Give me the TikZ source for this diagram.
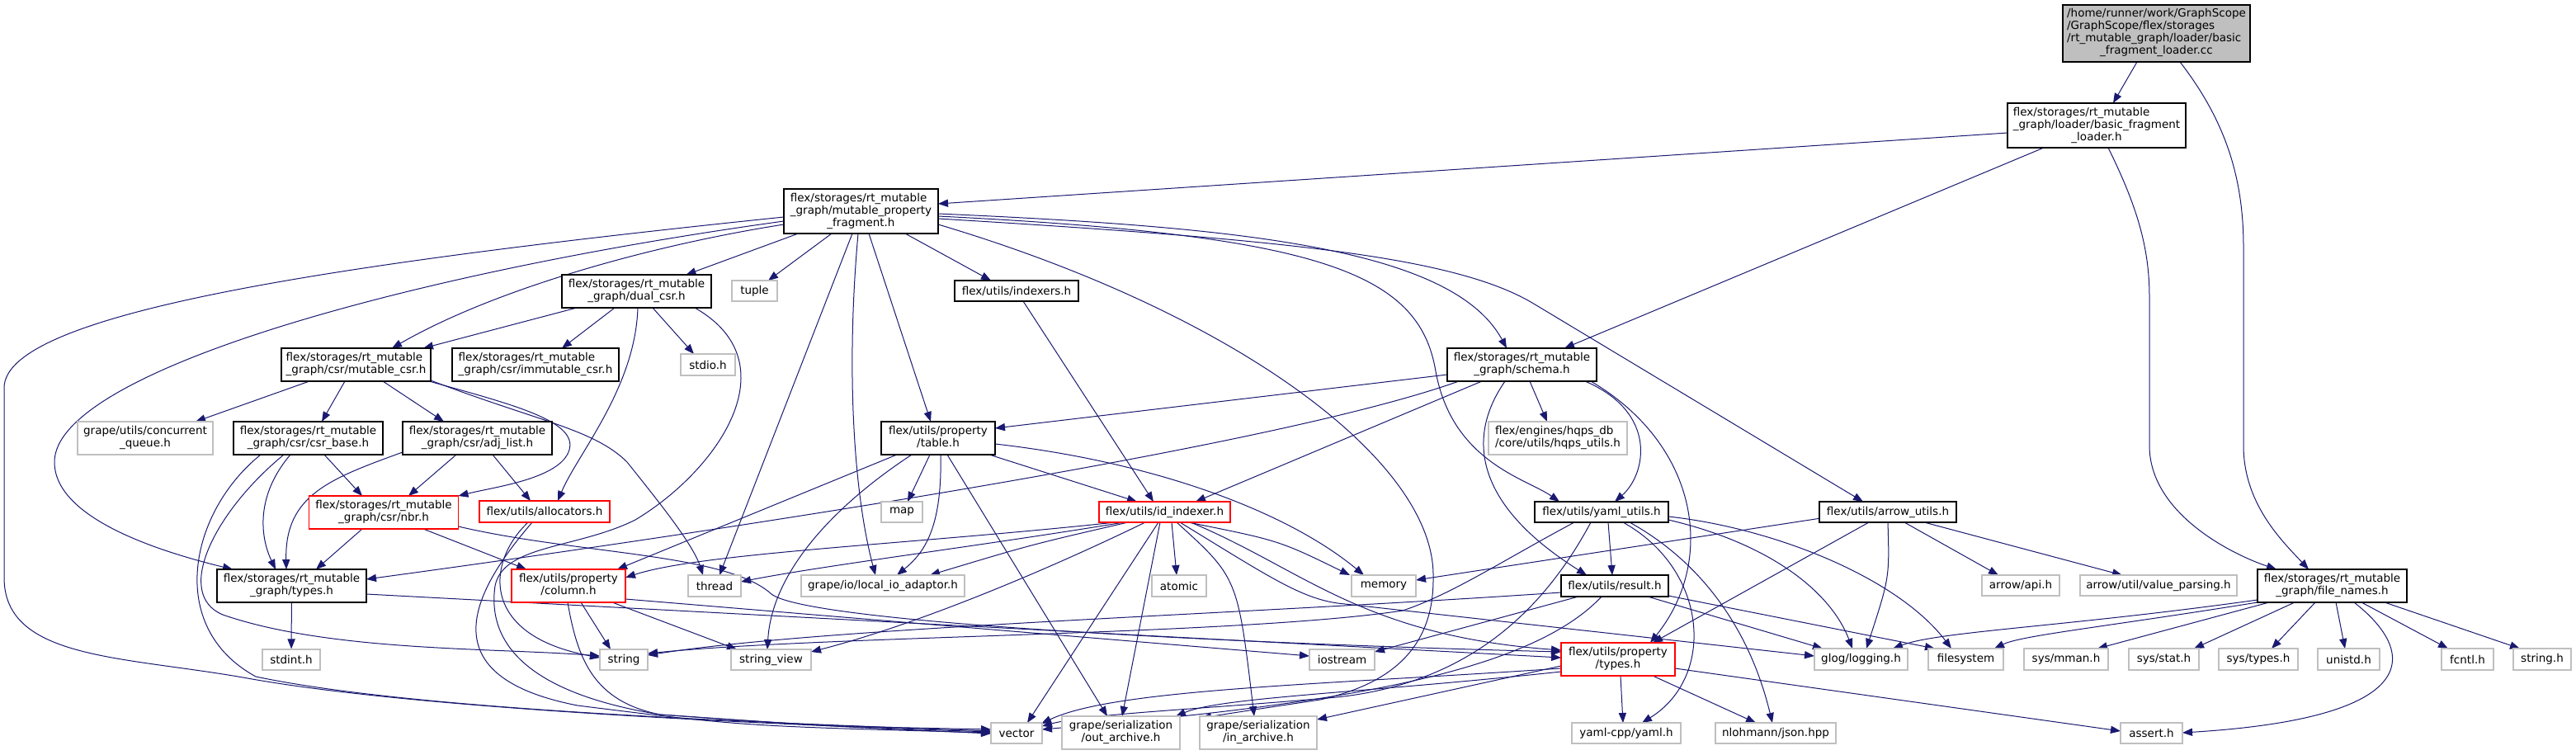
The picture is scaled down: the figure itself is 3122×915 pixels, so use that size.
\documentclass[tikz,border=0pt]{standalone}
\usepackage{fontspec}
\newfontfamily\dvs{DejaVu Sans}
\usetikzlibrary{arrows.meta,calc}
\definecolor{edgec}{HTML}{191970}
\definecolor{gry}{HTML}{BFBFBF}
\definecolor{nred}{HTML}{FF0000}
\newcommand{\mlines}[1]{\begin{tabular}{@{}l@{}}#1\end{tabular}}
\newcommand{\lastc}[1]{\multicolumn{1}{@{}c@{}}{#1}}
\pgfdeclarelayer{bg}
\pgfsetlayers{bg,main}
\begin{document}
\begin{tikzpicture}[x=0.5pt,y=-0.5pt,
  bx/.style={rectangle,inner sep=0pt,fill=white,line width=0.55pt,font={\dvs\fontsize{6.75pt}{7.5pt}\selectfont}},
  nb/.style={bx,draw=black},
  ng/.style={bx,draw=gry},
  nr/.style={bx,draw=nred},
  nroot/.style={bx,draw=black,fill=gry},
  wh/.style 2 args={minimum width=#1pt,minimum height=#2pt},
  e/.style={draw=edgec,line width=0.5pt,-{Triangle[length=6pt,width=4.6pt]}}]
\useasboundingbox (0,0) rectangle (3122,915);

% ---------- nodes ----------
\node[nroot,wh={113.5}{34.5}] (root) at (2613.5,40.5) {\mlines{/home/runner/work/GraphScope\\/GraphScope/flex/storages\\/rt\_mutable\_graph/loader/basic\\\lastc{\_fragment\_loader.cc}}};
\node[nb,wh={108}{27}] (bfl) at (2541,152) {\mlines{flex/storages/rt\_mutable\\\_graph/loader/basic\_fragment\\\lastc{\_loader.h}}};
\node[nb,wh={90.5}{20}] (fn) at (2826.5,710) {\mlines{flex/storages/rt\_mutable\\\lastc{\_graph/file\_names.h}}};
\node[nb,wh={93.5}{27}] (mpf) at (1043.5,256) {\mlines{flex/storages/rt\_mutable\\\_graph/mutable\_property\\\lastc{\_fragment.h}}};
\node[nb,wh={90.5}{20}] (schema) at (1844.5,442) {\mlines{flex/storages/rt\_mutable\\\lastc{\_graph/schema.h}}};
\node[nb,wh={90.5}{20}] (dual) at (771.5,353) {\mlines{flex/storages/rt\_mutable\\\lastc{\_graph/dual\_csr.h}}};
\node[ng,wh={27.5}{12.5}] (tuple) at (914.5,352.5) {tuple};
\node[nb,wh={75}{12.5}] (indexers) at (1232,352.5) {flex/utils/indexers.h};
\node[nb,wh={90.5}{20}] (mcsr) at (431.5,442) {\mlines{flex/storages/rt\_mutable\\\lastc{\_graph/csr/mutable\_csr.h}}};
\node[nb,wh={101}{20}] (imcsr) at (649,442) {\mlines{flex/storages/rt\_mutable\\\lastc{\_graph/csr/immutable\_csr.h}}};
\node[ng,wh={33}{13}] (stdio) at (858,442) {stdio.h};
\node[ng,wh={84}{20}] (hqps) at (1888,531) {\mlines{flex/engines/hqps\_db\\\lastc{/core/utils/hqps\_utils.h}}};
\node[nb,wh={69}{20}] (table) at (1137,531) {\mlines{flex/utils/property\\\lastc{/table.h}}};
\node[ng,wh={82}{20}] (cq) at (176,531) {\mlines{grape/utils/concurrent\\\lastc{\_queue.h}}};
\node[nb,wh={90.5}{20}] (csrb) at (373.5,531) {\mlines{flex/storages/rt\_mutable\\\lastc{\_graph/csr/csr\_base.h}}};
\node[nb,wh={90.5}{20}] (adj) at (578.5,531) {\mlines{flex/storages/rt\_mutable\\\lastc{\_graph/csr/adj\_list.h}}};
\node[nr,wh={90.5}{20}] (nbr) at (465,621) {\mlines{flex/storages/rt\_mutable\\\lastc{\_graph/csr/nbr.h}}};
\node[nr,wh={79}{13}] (alloc) at (660,620) {flex/utils/allocators.h};
\node[ng,wh={25}{12.5}] (map) at (1093,620.5) {map};
\node[nr,wh={79.5}{12.5}] (idx) at (1411.5,620.5) {flex/utils/id\_indexer.h};
\node[nb,wh={81}{12.5}] (yaml) at (1941,620.5) {flex/utils/yaml\_utils.h};
\node[nb,wh={83}{12.5}] (arrowu) at (2288,620.5) {flex/utils/arrow\_utils.h};
\node[nb,wh={90.5}{20}] (rtt) at (353.5,710) {\mlines{flex/storages/rt\_mutable\\\lastc{\_graph/types.h}}};
\node[nr,wh={69}{20}] (col) at (689,710) {\mlines{flex/utils/property\\\lastc{/column.h}}};
\node[ng,wh={32}{13}] (thread) at (866,710) {thread};
\node[ng,wh={99}{13}] (lio) at (1070,710) {grape/io/local\_io\_adaptor.h};
\node[ng,wh={33}{13}] (atomic) at (1429,710) {atomic};
\node[ng,wh={39}{13}] (memory) at (1677,710) {memory};
\node[nb,wh={65}{13}] (result) at (1957,710) {flex/utils/result.h};
\node[nr,wh={69}{20}] (ptypes) at (1961,799) {\mlines{flex/utils/property\\\lastc{/types.h}}};
\node[ng,wh={47}{12.5}] (api) at (2449,709.5) {arrow/api.h};
\node[ng,wh={95}{12.5}] (vp) at (2616,709.5) {arrow/util/value\_parsing.h};
\node[ng,wh={35}{12.5}] (stdint) at (353,799.5) {stdint.h};
\node[ng,wh={29}{12.5}] (string) at (756,799.5) {string};
\node[ng,wh={48.5}{12.5}] (sv) at (934.5,799.5) {string\_view};
\node[ng,wh={39.5}{12.5}] (iostream) at (1626.5,799.5) {iostream};
\node[ng,wh={56.5}{13}] (glog) at (2255.5,799) {glog/logging.h};
\node[ng,wh={45.5}{13}] (fs) at (2382.5,799) {filesystem};
\node[ng,wh={51}{13}] (mman) at (2504,799) {sys/mman.h};
\node[ng,wh={42.5}{13}] (sstat) at (2622.5,799) {sys/stat.h};
\node[ng,wh={48}{13}] (stypes) at (2737,799) {sys/types.h};
\node[ng,wh={37.5}{13}] (unistd) at (2846.5,799) {unistd.h};
\node[ng,wh={31.5}{13}] (fcntl) at (2990.5,799) {fcntl.h};
\node[ng,wh={35}{13}] (strh) at (3081,799) {string.h};
\node[ng,wh={31}{12.5}] (vector) at (1232,888.5) {vector};
\node[ng,wh={71.5}{20}] (oar) at (1358.5,888) {\mlines{grape/serialization\\\lastc{/out\_archive.h}}};
\node[ng,wh={71}{20}] (iar) at (1525,888) {\mlines{grape/serialization\\\lastc{/in\_archive.h}}};
\node[ng,wh={66}{12.5}] (ycpp) at (1971,888.5) {yaml-cpp/yaml.h};
\node[ng,wh={73}{12.5}] (json) at (2152,888.5) {nlohmann/json.hpp};
\node[ng,wh={37.5}{12.5}] (assert) at (2607.5,888.5) {assert.h};

% ---------- edges ----------
\begin{pgfonlayer}{bg}
% root, loader
\draw[e] ($(root)+(-23.5,34.5)$) -- ($(bfl)+(20,-27)$);
\draw[e] ($(root)+(28.5,34.5)$) .. controls (2700,150) and (2719,220) .. (2719,300) -- (2719,540) .. controls (2719,610) and (2765,655) .. ($(fn)+(-28.5,-20)$);
\draw[e] ($(bfl)+(14,27)$) .. controls (2590,250) and (2605,300) .. (2605,360) -- (2605,540) .. controls (2605,620) and (2700,670) .. ($(fn)+(-67.5,-20)$);
\draw[e] ($(bfl)+(-108,9)$) -- ($(mpf)+(93.5,-9)$);
\draw[e] ($(bfl)+(-64,27)$) -- ($(schema)+(51.5,-20)$);
% mutable_property_fragment
\draw[e] ($(mpf)+(-93.5,7)$) .. controls (400,320) and (5,380) .. (5,470) -- (5,700) .. controls (5,800) and (150,795) .. (300,822) .. controls (500,858) and (900,877) .. ($(vector)+(-31,-1.5)$);
\draw[e] ($(mpf)+(-93.5,12)$) .. controls (500,330) and (66,450) .. (66,560) .. controls (66,630) and (200,670) .. ($(rtt)+(-71.5,-20)$);
\draw[e] ($(mpf)+(-93.5,16)$) .. controls (790,297) and (600,350) .. ($(mcsr)+(43.5,-20)$);
\draw[e] ($(mpf)+(-76,27)$) -- ($(dual)+(60,-20)$);
\draw[e] ($(mpf)+(-35.5,27)$) -- ($(tuple)+(16.5,-12.5)$);
\draw[e] ($(mpf)+(-10.5,27)$) -- ($(thread)+(6,-13)$);
\draw[e] ($(mpf)+(-3.5,27)$) .. controls (1025,450) and (1035,600) .. ($(lio)+(-9,-13)$);
\draw[e] ($(mpf)+(9.5,27)$) -- ($(table)+(-9,-20)$);
\draw[e] ($(mpf)+(53.5,27)$) -- ($(indexers)+(-31,-12.5)$);
\draw[e] ($(mpf)+(93.5,3)$) .. controls (1500,275) and (1760,300) .. ($(schema)+(-18.5,-20)$);
\draw[e] ($(mpf)+(93.5,6)$) .. controls (1600,285) and (1720,330) .. (1740,450) .. controls (1760,560) and (1850,580) .. ($(yaml)+(-51,-12.5)$);
\draw[e] ($(mpf)+(93.5,9)$) .. controls (1550,290) and (1760,310) .. (1857,367) -- ($(arrowu)+(-30,-12.5)$);
\draw[e] ($(mpf)+(93.5,16)$) .. controls (1500,380) and (1740,560) .. (1737,700) .. controls (1738,790) and (1680,830) .. (1600,848) .. controls (1520,860) .. ($(iar)+(-69,-18)$);
% dual_csr
\draw[e] ($(dual)+(-72.5,20)$) -- ($(mcsr)+(81.5,-20)$);
\draw[e] ($(dual)+(-26.5,20)$) -- ($(imcsr)+(32,-20)$);
\draw[e] ($(dual)+(19.5,20)$) -- ($(stdio)+(-17,-13)$);
\draw[e] ($(dual)+(1.5,20)$) .. controls (770,470) and (700,550) .. ($(alloc)+(16,-13)$);
\draw[e] ($(dual)+(70.5,20)$) .. controls (960,440) and (870,570) .. (770,630) .. controls (700,665) and (610,660) .. (600,710) .. controls (590,780) and (640,840) .. (800,866) .. controls (1000,880) .. ($(vector)+(-31,-4.5)$);
% mutable_csr
\draw[e] ($(mcsr)+(-56.5,20)$) -- ($(cq)+(61,-20)$);
\draw[e] ($(mcsr)+(-13.5,20)$) -- ($(csrb)+(16.5,-20)$);
\draw[e] ($(mcsr)+(32.5,20)$) -- ($(adj)+(-40.5,-20)$);
\draw[e] ($(mcsr)+(88.5,20)$) .. controls (620,490) and (700,510) .. (690,545) .. controls (680,580) and (600,590) .. ($(nbr)+(90.5,-20)$);
\draw[e] ($(mcsr)+(90.5,19)$) .. controls (650,510) and (720,520) .. (760,560) .. controls (800,610) and (840,660) .. ($(thread)+(-14,-13)$);
% csr_base
\draw[e] ($(csrb)+(19.5,20)$) -- ($(nbr)+(-26,-20)$);
\draw[e] ($(csrb)+(-21.5,20)$) .. controls (310,600) and (315,650) .. ($(rtt)+(-19.5,-20)$);
\draw[e] ($(csrb)+(-29.5,20)$) .. controls (260,620) and (210,720) .. (270,745) .. controls (400,790) and (600,785) .. ($(string)+(-29,-4.5)$);
\draw[e] ($(csrb)+(-57.5,20)$) .. controls (230,620) and (200,760) .. (310,820) .. controls (500,860) and (900,875) .. ($(vector)+(-31,-2.5)$);
% adj_list
\draw[e] ($(adj)+(-25.5,20)$) -- ($(nbr)+(30,-20)$);
\draw[e] ($(adj)+(-90.5,17)$) .. controls (400,580) and (345,600) .. ($(rtt)+(-6.5,-20)$);
\draw[e] ($(adj)+(18.5,20)$) -- ($(alloc)+(-17,-13)$);
% nbr
\draw[e] ($(nbr)+(-26,20)$) -- ($(rtt)+(29.5,-20)$);
\draw[e] ($(nbr)+(48,20)$) -- ($(col)+(-51,-20)$);
\draw[e] ($(nbr)+(90.5,17)$) .. controls (700,672) and (880,670) .. (935,720) .. controls (980,755) and (1500,780) .. ($(ptypes)+(-69,-9)$);
% allocators
\draw[e] ($(alloc)+(-20,13)$) .. controls (590,680) and (580,770) .. ($(string)+(-29,-2.5)$);
\draw[e] ($(alloc)+(-15,13)$) .. controls (570,720) and (520,820) .. (700,855) .. controls (900,880) .. ($(vector)+(-31,-0.5)$);
% rt types
\draw[e] (rtt) -- (stdint);
\draw[e] ($(rtt)+(90.5,10)$) -- ($(ptypes)+(-69,-2)$);
% column
\draw[e] ($(col)+(15,20)$) -- ($(string)+(-16,-12.5)$);
\draw[e] ($(col)+(53,20)$) -- ($(sv)+(-41.5,-12.5)$);
\draw[e] ($(col)+(69,16)$) -- ($(iostream)+(-39.5,-4.5)$);
\draw[e] ($(col)+(-1,20)$) .. controls (700,800) and (720,850) .. (800,866) .. controls (1000,880) .. ($(vector)+(-31,0.5)$);
% table
\draw[e] ($(table)+(-50,20)$) -- ($(col)+(59,-20)$);
\draw[e] ($(table)+(-32,20)$) .. controls (1000,620) and (935,700) .. ($(sv)+(-4.5,-12.5)$);
\draw[e] ($(table)+(-10,20)$) -- ($(map)+(7,-12.5)$);
\draw[e] ($(table)+(3,20)$) .. controls (1142,640) and (1120,670) .. ($(lio)+(17,-13)$);
\draw[e] ($(table)+(11,20)$) -- ($(oar)+(-16.5,-20)$);
\draw[e] ($(table)+(62,20)$) -- ($(idx)+(-33.5,-12.5)$);
\draw[e] ($(table)+(69,7)$) .. controls (1400,560) and (1560,620) .. ($(memory)+(-24,-13)$);
% indexers
\draw[e] ($(indexers)+(8,12.5)$) -- ($(idx)+(-13.5,-12.5)$);
% schema
\draw[e] ($(schema)+(-90.5,12)$) -- ($(table)+(69,-12)$);
\draw[e] ($(schema)+(-76.5,20)$) .. controls (1550,540) and (900,640) .. ($(rtt)+(90.5,-8)$);
\draw[e] ($(schema)+(-48.5,20)$) -- ($(idx)+(37.5,-12.5)$);
\draw[e] ($(schema)+(9.5,20)$) -- ($(hqps)+(-13,-20)$);
\draw[e] ($(schema)+(76.5,20)$) .. controls (2010,500) and (1995,575) .. ($(yaml)+(16,-12.5)$);
\draw[e] ($(schema)+(-20.5,20)$) .. controls (1770,540) and (1800,620) .. ($(result)+(-34,-13)$);
\draw[e] ($(schema)+(83.5,20)$) .. controls (2060,540) and (2080,680) .. ($(ptypes)+(39,-20)$);
% id_indexer
\draw[e] ($(idx)+(-59.5,12.5)$) .. controls (1100,660) and (850,670) .. ($(col)+(69,-10)$);
\draw[e] ($(idx)+(-49.5,12.5)$) .. controls (1200,660) and (1000,685) .. ($(thread)+(32,-5)$);
\draw[e] ($(idx)+(-44.5,12.5)$) .. controls (1250,660) .. ($(lio)+(57,-13)$);
\draw[e] ($(idx)+(-23.5,12.5)$) .. controls (1250,700) and (1100,760) .. ($(sv)+(48.5,-9.5)$);
\draw[e] ($(idx)+(-7.5,12.5)$) -- ($(vector)+(13,-12.5)$);
\draw[e] ($(idx)+(-5.5,12.5)$) -- ($(oar)+(1.5,-20)$);
\draw[e] ($(idx)+(8.5,12.5)$) -- ($(atomic)+(-3,-13)$);
\draw[e] ($(idx)+(14.5,12.5)$) .. controls (1500,700) .. ($(iar)+(-5,-20)$);
\draw[e] ($(idx)+(28.5,12.5)$) .. controls (1550,655) .. ($(memory)+(-41,-13)$);
\draw[e] ($(idx)+(31.5,12.5)$) .. controls (1580,690) and (1650,770) .. ($(ptypes)+(-69,-11)$);
\draw[e] ($(idx)+(18.5,12.5)$) .. controls (1540,700) and (1580,728) .. (1630,732) -- ($(glog)+(-56.5,-4)$);
% yaml_utils
\draw[e] ($(yaml)+(-33,12.5)$) .. controls (1820,680) and (1760,720) .. (1700,740) .. controls (1500,770) and (1000,770) .. ($(string)+(29,-7.5)$);
\draw[e] ($(yaml)+(-13,12.5)$) .. controls (1860,760) and (1760,830) .. (1620,845) .. controls (1450,860) and (1320,865) .. ($(vector)+(31,-8.5)$);
\draw[e] ($(yaml)+(8,12.5)$) -- ($(result)+(-3,-13)$);
\draw[e] ($(yaml)+(26,12.5)$) .. controls (2070,690) and (2080,820) .. ($(ycpp)+(19,-12.5)$);
\draw[e] ($(yaml)+(34,12.5)$) .. controls (2060,680) and (2120,760) .. ($(json)+(-4,-12.5)$);
\draw[e] ($(yaml)+(81,9.5)$) .. controls (2150,660) and (2220,720) .. ($(glog)+(-10.5,-13)$);
\draw[e] ($(yaml)+(81,5.5)$) .. controls (2150,640) and (2300,700) .. ($(fs)+(-17.5,-13)$);
% result
\draw[e] ($(result)+(-65,8)$) .. controls (1500,745) and (1000,760) .. ($(string)+(29,-5.5)$);
\draw[e] ($(result)+(-44,13)$) -- ($(iostream)+(39.5,-9.5)$);
\draw[e] ($(result)+(-16,13)$) .. controls (1850,820) and (1600,855) .. ($(vector)+(31,-4.5)$);
\draw[e] ($(result)+(40,13)$) -- ($(glog)+(-46.5,-13)$);
\draw[e] ($(result)+(65,12)$) -- ($(fs)+(-37.5,-13)$);
% arrow_utils
\draw[e] ($(arrowu)+(-81,7.5)$) -- ($(memory)+(39,-7)$);
\draw[e] ($(arrowu)+(-23,12.5)$) -- ($(ptypes)+(42,-20)$);
\draw[e] ($(arrowu)+(0,12.5)$) .. controls (2290,700) .. ($(glog)+(6.5,-13)$);
\draw[e] ($(arrowu)+(20,12.5)$) -- ($(api)+(-27,-12.5)$);
\draw[e] ($(arrowu)+(44,12.5)$) -- ($(vp)+(-44,-12.5)$);
% property types
\draw[e] ($(ptypes)+(3,20)$) -- ($(ycpp)+(-4,-12.5)$);
\draw[e] ($(ptypes)+(42,20)$) -- ($(json)+(-24,-12.5)$);
\draw[e] ($(ptypes)+(69,11)$) -- ($(assert)+(-37.5,-2.5)$);
\draw[e] ($(ptypes)+(-69,8)$) -- ($(iar)+(71,-16)$);
\draw[e] ($(ptypes)+(-69,11)$) .. controls (1600,830) and (1350,835) .. ($(vector)+(30,-11.5)$);
\draw[e] ($(ptypes)+(-69,15)$) .. controls (1650,840) and (1480,845) .. ($(oar)+(66.5,-20)$);
% file_names
\draw[e] ($(fn)+(-90.5,17)$) .. controls (2500,760) and (2350,765) .. ($(glog)+(38.5,-13)$);
\draw[e] ($(fn)+(-90.5,20)$) .. controls (2550,760) and (2450,770) .. ($(fs)+(34.5,-13)$);
\draw[e] ($(fn)+(-76.5,20)$) -- ($(mman)+(38,-13)$);
\draw[e] ($(fn)+(-45.5,20)$) -- ($(sstat)+(36.5,-13)$);
\draw[e] ($(fn)+(-20.5,20)$) -- ($(stypes)+(16,-13)$);
\draw[e] ($(fn)+(4.5,20)$) -- ($(unistd)+(-4.5,-13)$);
\draw[e] ($(fn)+(26.5,20)$) .. controls (2930,790) and (2940,870) .. ($(assert)+(37.5,-0.5)$);
\draw[e] ($(fn)+(35.5,20)$) -- ($(fcntl)+(-23.5,-13)$);
\draw[e] ($(fn)+(63.5,20)$) -- ($(strh)+(-27,-13)$);
\end{pgfonlayer}
\end{tikzpicture}
\end{document}
